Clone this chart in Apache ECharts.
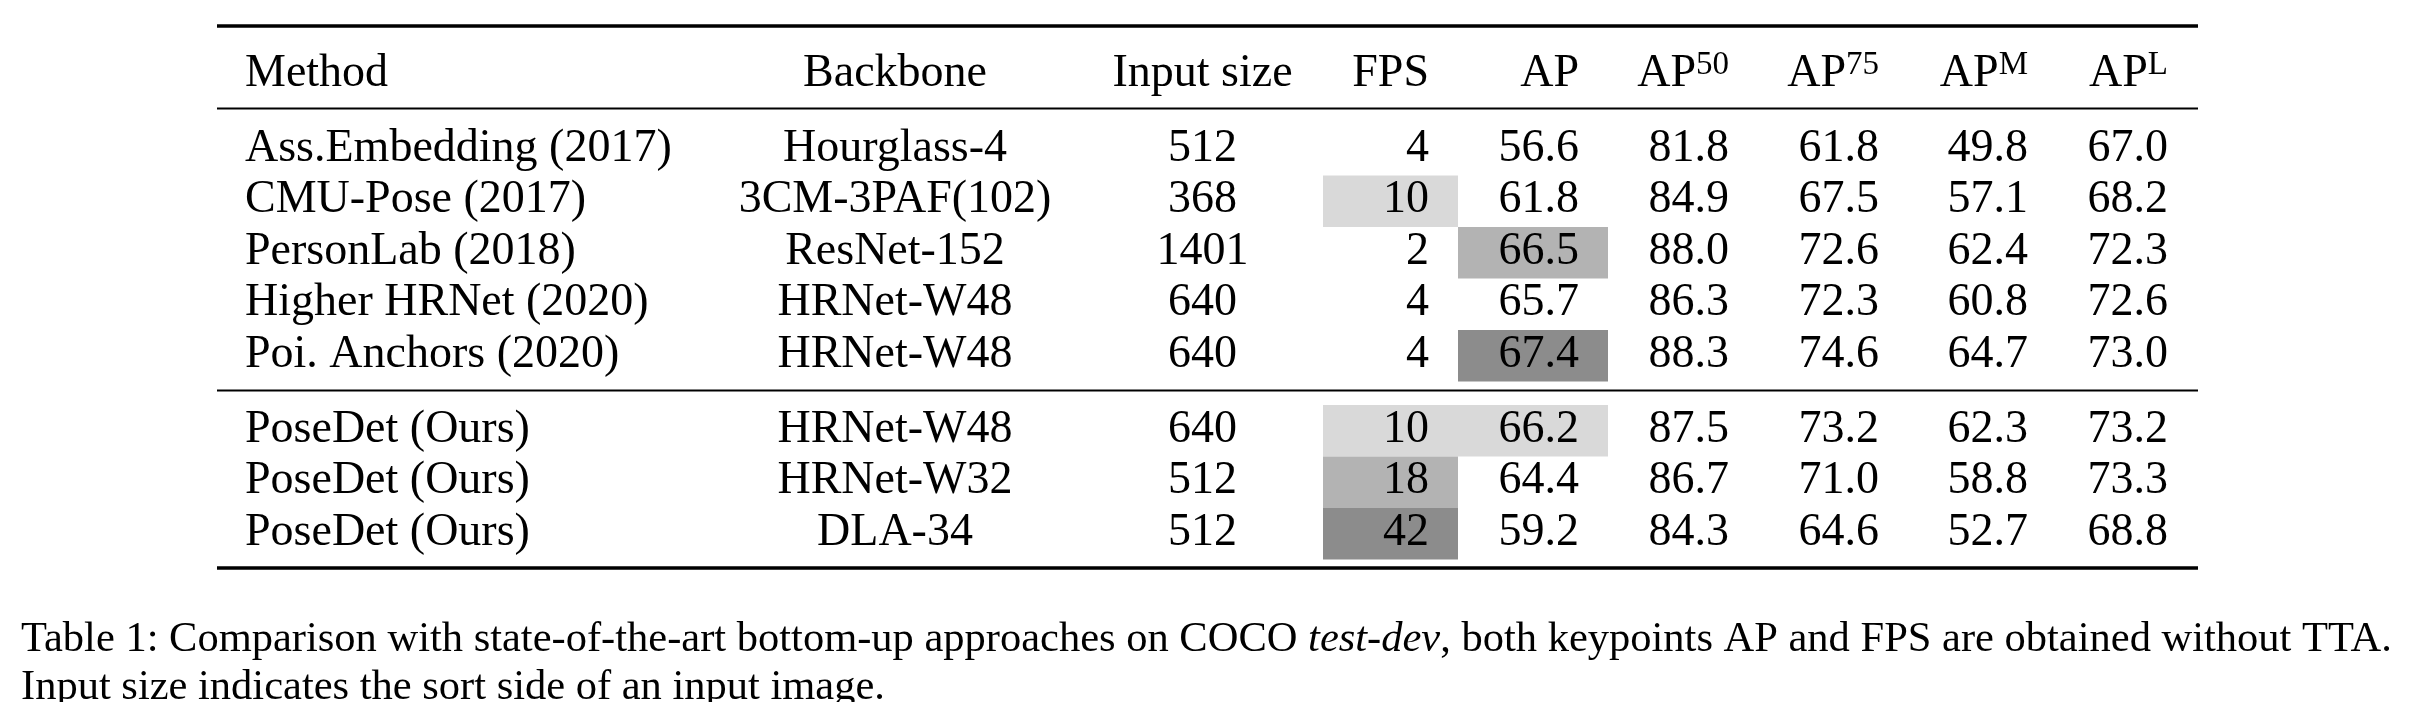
<!DOCTYPE html>
<html>
<head>
<meta charset="utf-8">
<title>Table 1</title>
<script src="https://cdn.jsdelivr.net/npm/echarts@6/dist/echarts.min.js"></script>
<style>
  html, body { margin: 0; padding: 0; background: #fff; }
  #div_table { width: 2412px; height: 702px; }
</style>
</head>
<body>
<div id="div_table"></div>
<script>
/*
 表格数据
 * */
var headers = ['Method', 'Backbone', 'Input size', 'FPS', 'AP', 'AP', 'AP', 'AP', 'AP'];
var headerSup = ['', '', '', '', '', '50', '75', 'M', 'L'];
var methods = ['Ass.Embedding (2017)', 'CMU-Pose (2017)', 'PersonLab (2018)', 'Higher HRNet (2020)',
    'Poi. Anchors (2020)', 'PoseDet (Ours)', 'PoseDet (Ours)', 'PoseDet (Ours)'];
var backbones = ['Hourglass-4', '3CM-3PAF(102)', 'ResNet-152', 'HRNet-W48', 'HRNet-W48',
    'HRNet-W48', 'HRNet-W32', 'DLA-34'];
var inputSizes = [512, 368, 1401, 640, 640, 640, 512, 512];
var fps = [4, 10, 2, 4, 4, 10, 18, 42];
var ap = [56.6, 61.8, 66.5, 65.7, 67.4, 66.2, 64.4, 59.2];
var ap50 = [81.8, 84.9, 88.0, 86.3, 88.3, 87.5, 86.7, 84.3];
var ap75 = [61.8, 67.5, 72.6, 72.3, 74.6, 73.2, 71.0, 64.6];
var apM = [49.8, 57.1, 62.4, 60.8, 64.7, 62.3, 58.8, 52.7];
var apL = [67.0, 68.2, 72.3, 72.6, 73.0, 73.2, 73.3, 68.8];
var groupSizes = [5, 3];
var captionLine1 = 'Table 1: Comparison with state-of-the-art bottom-up approaches on COCO {i|test-dev}, both keypoints AP and FPS are obtained without TTA.';
var captionLine2 = 'Input size indicates the sort side of an input image.';

/*
 版式 (像素坐标, 与数据分开)
 * */
var FONT = '"Liberation Serif", "Times New Roman", serif';
var colEdges = [216, 708, 1082, 1323, 1458, 1608, 1758, 1908, 2057, 2197];
var colAlign = ['left', 'center', 'center', 'right', 'right', 'right', 'right', 'right', 'right'];
var cellPad = 29;
var headerY = 74;
var groupTops = [124, 405];
var rowPitch = 51.5;
var textOffset = 24.5;
var ruleX = [217, 2198];
var rules = [[26, 3.5], [108.5, 2], [390.5, 2], [568, 3.5]];
var shadeColors = ['#8c8c8c', '#b3b3b3', '#d9d9d9'];

// 每列的数值和格式
var columns = [
    methods,
    backbones,
    inputSizes.map(String),
    fps.map(String),
    ap.map(function (v) { return v.toFixed(1); }),
    ap50.map(function (v) { return v.toFixed(1); }),
    ap75.map(function (v) { return v.toFixed(1); }),
    apM.map(function (v) { return v.toFixed(1); }),
    apL.map(function (v) { return v.toFixed(1); })
];

// 前三名加灰底: FPS 和 AP 两列
function topRanks(values) {
    var distinct = values.filter(function (v, i) { return values.indexOf(v) === i; })
        .sort(function (a, b) { return b - a; });
    return values.map(function (v) {
        var r = distinct.indexOf(v);
        return r < 3 ? r : -1;
    });
}
var ranks = { 3: topRanks(fps), 4: topRanks(ap) };

// 行号 -> 所在行的上边
function rowTop(row) {
    var start = 0;
    for (var g = 0; g < groupSizes.length; g++) {
        if (row < start + groupSizes[g]) {
            return groupTops[g] + (row - start) * rowPitch;
        }
        start += groupSizes[g];
    }
}

var cellData = [];
for (var c = 0; c < columns.length; c++) {
    cellData.push([c, -1]);
    for (var r = 0; r < methods.length; r++) {
        cellData.push([c, r]);
    }
}

function textX(col) {
    if (colAlign[col] === 'left') return colEdges[col] + cellPad;
    if (colAlign[col] === 'right') return colEdges[col + 1] - cellPad;
    return (colEdges[col] + colEdges[col + 1]) / 2;
}

var _chart = echarts.init(document.getElementById('div_table'));
_chart.setOption({
    animation: false,
    backgroundColor: '#fff',
    title: {
        text: captionLine1 + '\n' + captionLine2,
        left: 21,
        top: 616,
        padding: 0,
        textStyle: {
            fontFamily: FONT,
            fontSize: 42.5,
            fontWeight: 'normal',
            lineHeight: 48,
            color: '#000',
            rich: {
                i: { fontFamily: FONT, fontSize: 42.5, fontStyle: 'italic', color: '#000', lineHeight: 48 }
            }
        }
    },
    grid: { left: 0, right: 0, top: 0, bottom: 0 },
    xAxis: { type: 'value', min: 0, max: 2412, show: false },
    yAxis: { type: 'value', min: 0, max: 702, inverse: true, show: false },
    series: [
        {
            name: 'rules',
            type: 'custom',
            silent: true,
            data: rules,
            renderItem: function (params, api) {
                var y = api.value(0);
                var p0 = api.coord([ruleX[0], y]);
                var p1 = api.coord([ruleX[1], y]);
                return {
                    type: 'line',
                    shape: { x1: p0[0], y1: p0[1], x2: p1[0], y2: p1[1] },
                    style: { stroke: '#000', lineWidth: api.value(1) }
                };
            }
        },
        {
            name: 'cells',
            type: 'custom',
            silent: true,
            data: cellData,
            renderItem: function (params, api) {
                var col = api.value(0);
                var row = api.value(1);
                var children = [];
                if (row < 0) {
                    var p = api.coord([textX(col), headerY]);
                    var sup = headerSup[col];
                    children.push({
                        type: 'text',
                        style: {
                            x: p[0], y: p[1],
                            text: sup ? '{b|' + headers[col] + '}{s|' + sup + '}' : headers[col],
                            fontFamily: FONT, fontSize: 46, fill: '#000',
                            align: colAlign[col], verticalAlign: 'middle',
                            rich: {
                                b: { fontFamily: FONT, fontSize: 46, lineHeight: 50, verticalAlign: 'middle', fill: '#000' },
                                s: { fontFamily: FONT, fontSize: 33, lineHeight: 20, verticalAlign: 'top', fill: '#000' }
                            }
                        }
                    });
                    return { type: 'group', children: children };
                }
                var top = rowTop(row);
                var rk = ranks[col] ? ranks[col][row] : -1;
                if (rk >= 0) {
                    var a = api.coord([colEdges[col], top]);
                    var b = api.coord([colEdges[col + 1], top + rowPitch]);
                    children.push({
                        type: 'rect',
                        shape: { x: a[0], y: a[1], width: b[0] - a[0], height: b[1] - a[1] },
                        style: { fill: shadeColors[rk] }
                    });
                }
                var t = api.coord([textX(col), top + textOffset]);
                children.push({
                    type: 'text',
                    style: {
                        x: t[0], y: t[1],
                        text: columns[col][row],
                        fontFamily: FONT, fontSize: 46, fill: '#000',
                        align: colAlign[col], verticalAlign: 'middle'
                    }
                });
                return { type: 'group', children: children };
            }
        }
    ]
});
</script>
</body>
</html>
